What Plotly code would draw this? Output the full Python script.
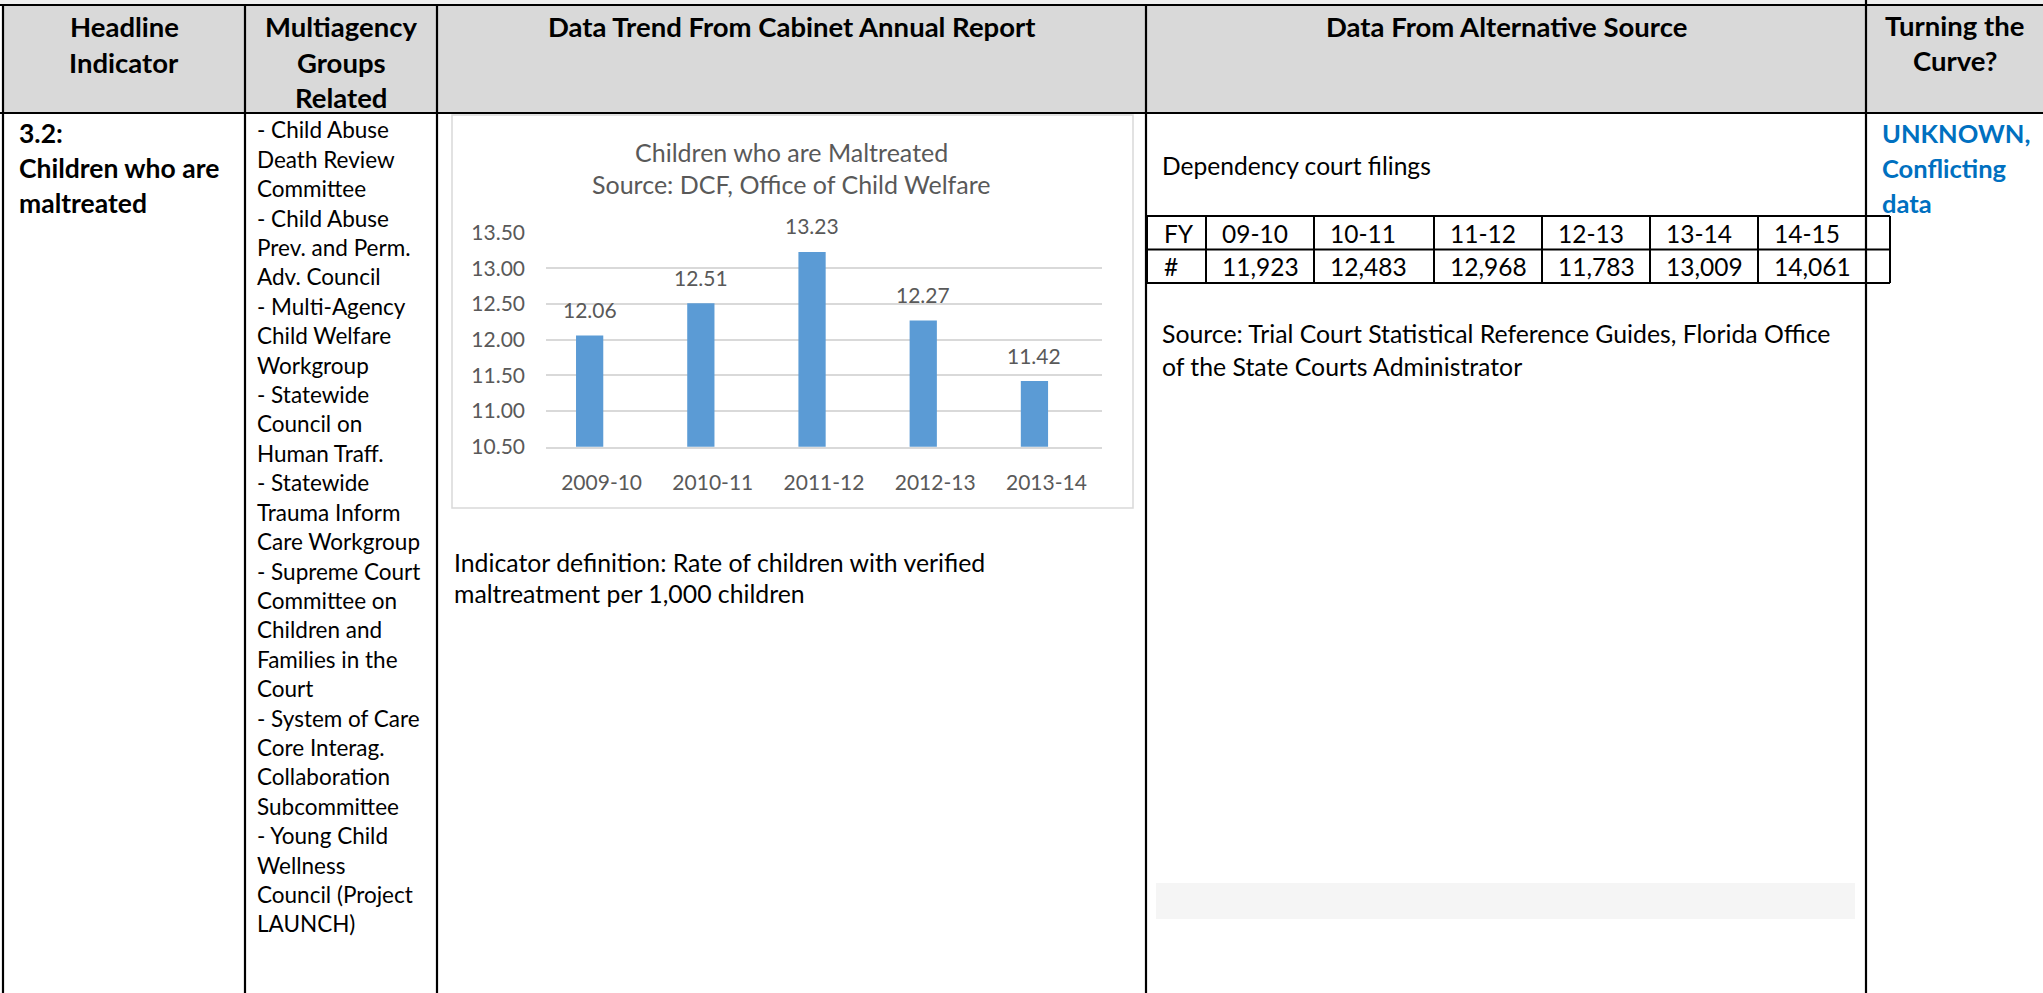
import plotly.graph_objects as go

# ---------------- data ----------------
years = ["2009-10", "2010-11", "2011-12", "2012-13", "2013-14"]
rates = [12.06, 12.51, 13.23, 12.27, 11.42]
y_ticks = [10.5, 11.0, 11.5, 12.0, 12.5, 13.0, 13.5]

fy_labels = ["09-10", "10-11", "11-12", "12-13", "13-14", "14-15"]
filings = [11923, 12483, 12968, 11783, 13009, 14061]

chart_title = ["Children who are Maltreated", "Source: DCF, Office of Child Welfare"]
header_cols = [
    ["Headline", "Indicator"],
    ["Multiagency", "Groups", "Related"],
    ["Data Trend From Cabinet Annual Report"],
    ["Data From Alternative Source"],
    ["Turning the", "Curve?"],
]
indicator_lines = ["3.2:", "Children who are", "maltreated"]
group_lines = [
    "- Child Abuse", "Death Review", "Committee",
    "- Child Abuse", "Prev. and Perm.", "Adv. Council",
    "- Multi-Agency", "Child Welfare", "Workgroup",
    "- Statewide", "Council on", "Human Traff.",
    "- Statewide", "Trauma Inform", "Care Workgroup",
    "- Supreme Court", "Committee on", "Children and", "Families in the", "Court",
    "- System of Care", "Core Interag.", "Collaboration", "Subcommittee",
    "- Young Child", "Wellness", "Council (Project", "LAUNCH)",
]
definition_lines = ["Indicator definition: Rate of children with verified",
                    "maltreatment per 1,000 children"]
alt_title = "Dependency court filings"
alt_source = ["Source: Trial Court Statistical Reference Guides, Florida Office",
              "of the State Courts Administrator"]
status_lines = ["UNKNOWN,", "Conflicting", "data"]

# ---------------- layout constants (pixels) ----------------
W, H = 2043, 993
FONT = "Lato"
BLACK = "#000000"
GREY_TXT = "#595959"
BAR_COL = "#5B9BD5"
GRID = "#D9D9D9"
BLUE = "#0070C0"
CHART_FS = 21

def X(px):
    return px / W

def Y(py):
    return 1 - py / H

col_edges = [3, 245, 437, 1146, 1866, W]
TOP, HEAD_BOT = 5, 113

fig = go.Figure()

BAR_W, BAR_OFF = 0.245, -0.23
fig.add_trace(go.Bar(
    x=years, y=rates, marker_color=BAR_COL, marker_line_width=0,
    width=BAR_W, offset=BAR_OFF, hoverinfo="x+y", showlegend=False,
))

shapes = []
annots = []

def text(px, py, s, size, color=BLACK, bold=False, anchor="left"):
    annots.append(dict(
        x=X(px), y=Y(py), xref="paper", yref="paper", text=(f"<b>{s}</b>" if bold else s),
        showarrow=False, xanchor=anchor, yanchor="middle",
        font=dict(family=FONT, size=size, color=color),
    ))

def line(x0, y0, x1, y1, width=2.2, color=BLACK):
    shapes.append(dict(type="line", xref="paper", yref="paper",
                       x0=X(x0), y0=Y(y0), x1=X(x1), y1=Y(y1),
                       line=dict(color=color, width=width), layer="above"))

def rect(x0, y0, x1, y1, fill, lcolor=None, lwidth=0):
    shapes.append(dict(type="rect", xref="paper", yref="paper",
                       x0=X(x0), y0=Y(y0), x1=X(x1), y1=Y(y1),
                       fillcolor=fill, line=dict(color=lcolor or fill, width=lwidth),
                       layer="below"))

# header background + top strip
rect(0, 0, W, TOP, "#EFEFEF")
rect(col_edges[0], TOP, W, HEAD_BOT, "#D9D9D9")
# chart area box
rect(452, 115, 1133, 508, "#FFFFFF", GRID, 1.5)
# light grey box in alternative source column
rect(1156, 883, 1855, 919, "#F5F5F5")

# table grid
line(0, TOP, W, TOP)
line(0, HEAD_BOT, W, HEAD_BOT)
for cx in col_edges[:-1]:
    line(cx, 0 if cx == 1866 else TOP, cx, H)

# header text
HEAD_FS = 27.5
header_y = [27, 62, 97]
for (c0, c1), lines in zip(zip(col_edges[:-1], [245, 437, 1146, 1866, 2043]), header_cols):
    cx = (c0 + c1) / 2
    for j, s in enumerate(lines):
        text(cx, header_y[j] - (2 if c0 == 1866 else 0), s, HEAD_FS, bold=True, anchor="center")

# column 1
for j, s in enumerate(indicator_lines):
    text(17, 133 + j * 35, s, 26.5, bold=True)
# column 2
for j, s in enumerate(group_lines):
    text(255, 130 + j * 29.4, s, 22.5)
# column 3 definition
for j, s in enumerate(definition_lines):
    text(452, 562 + j * 31, s, 24.8)
# column 4
text(1160, 165, alt_title, 24.6)
for j, s in enumerate(alt_source):
    text(1160, 333 + j * 33, s, 24.8)

inner_cols = [1147, 1206, 1314, 1434, 1542, 1650, 1758, 1866, 1890]
inner_rows = [216, 249.5, 283]
for ry in inner_rows:
    line(inner_cols[0], ry, inner_cols[-1], ry, 2)
for cx in inner_cols:
    line(cx, inner_rows[0], cx, inner_rows[-1], 2)
text(inner_cols[0] + 15, 233, "FY", 24.5)
text(inner_cols[0] + 15, 266, "#", 24.5)
for k, (lab, val) in enumerate(zip(fy_labels, filings)):
    text(inner_cols[k + 1] + 14, 233, lab, 24.5)
    text(inner_cols[k + 1] + 14, 266, f"{val:,}", 24.5)

# column 5
for j, s in enumerate(status_lines):
    text(1880, 133 + j * 35, s, 25.5, color=BLUE, bold=True)

# chart title
for j, s in enumerate(chart_title):
    text(791, 152 + j * 32, s, 25, color=GREY_TXT, anchor="center")

# value labels above bars
for i, v in enumerate(rates):
    annots.append(dict(
        x=i + BAR_OFF + BAR_W / 2, y=v, xref="x", yref="y", text=f"{v:.2f}",
        showarrow=False, xanchor="center", yanchor="middle", yshift=26,
        font=dict(family=FONT, size=CHART_FS, color=GREY_TXT),
    ))

fig.update_layout(
    width=W, height=H, margin=dict(l=0, r=0, t=0, b=0, autoexpand=False),
    paper_bgcolor="#FFFFFF", plot_bgcolor="rgba(0,0,0,0)",
    shapes=shapes, annotations=annots, showlegend=False,
    xaxis=dict(domain=[X(546), X(1102)], type="category", showgrid=False,
               showline=True, linecolor=GRID, linewidth=1.5, ticks="",
               tickfont=dict(family=FONT, size=CHART_FS, color=GREY_TXT),
               ticklabelstandoff=16, fixedrange=True, automargin=False),
    yaxis=dict(domain=[Y(446.7), Y(232.7)], range=[10.5, 13.5], tickvals=y_ticks,
               tickformat=".2f", showgrid=True, gridcolor=GRID, gridwidth=1.5,
               zeroline=False, showline=False, ticks="",
               tickfont=dict(family=FONT, size=CHART_FS, color=GREY_TXT),
               ticklabelstandoff=20, fixedrange=True, automargin=False),
)

fig.write_html("out.html", config={"displayModeBar": False},
               post_script="document.body.style.margin='0';document.body.style.overflow='hidden';")
